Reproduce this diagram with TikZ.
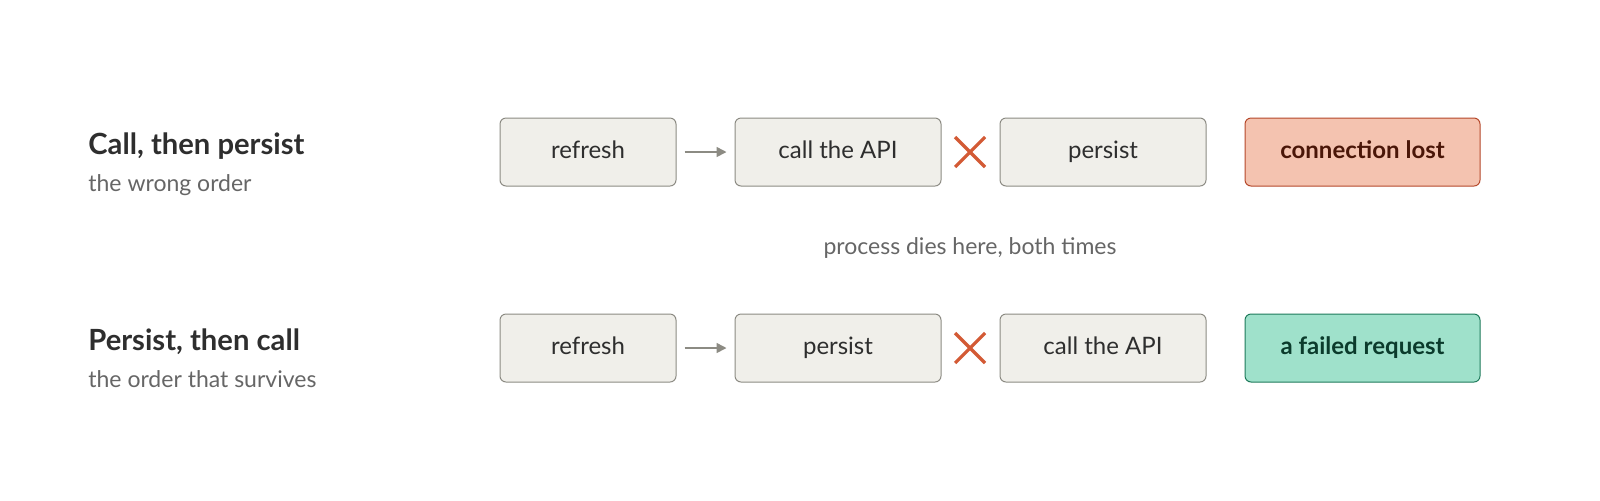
\documentclass[tikz,border=0pt]{standalone}
\usepackage{fontspec}
\setmainfont{Lato}
\usetikzlibrary{arrows.meta}
\definecolor{boxfill}{HTML}{F0EFEA}
\definecolor{boxline}{HTML}{8C8B83}
\definecolor{redfill}{HTML}{F4C3B0}
\definecolor{redline}{HTML}{B5482A}
\definecolor{redtext}{HTML}{4A1608}
\definecolor{grnfill}{HTML}{9FE1CB}
\definecolor{grnline}{HTML}{1D7A5A}
\definecolor{grntext}{HTML}{0B3B2C}
\definecolor{crossc}{HTML}{D35A35}
\definecolor{dark}{HTML}{2E2E2E}
\definecolor{sub}{HTML}{666666}
\tikzset{
  box/.style={draw=boxline, fill=boxfill, rounded corners=3pt, line width=0.5pt, minimum height=34pt, text=dark, font=\fontsize{12}{14}\selectfont, inner sep=0pt, text height=8.6pt, text depth=2.4pt},
  bad/.style={box, draw=redline, fill=redfill, text=redtext, font=\bfseries\fontsize{12}{14}\selectfont},
  good/.style={box, draw=grnline, fill=grnfill, text=grntext, font=\bfseries\fontsize{12}{14}\selectfont},
  arr/.style={draw=boxline, line width=0.8pt, -{Triangle[length=5pt,width=5pt]}},
  crs/.style={draw=crossc, line width=1.6pt},
  title/.style={anchor=base west, text=dark, font=\bfseries\fontsize{14.6}{16}\selectfont, inner sep=0pt},
  subt/.style={anchor=base west, text=sub, font=\fontsize{11.5}{13}\selectfont, inner sep=0pt}
}
\begin{document}
\begin{tikzpicture}[x=0.5pt,y=-0.5pt]
\useasboundingbox (0,0) rectangle (1600,500);
% row 1
\node[title] (t1) at (88,154) {Call, then persist};
\node[subt] (s1) at (88,191) {the wrong order};
\node[box, minimum width=88pt] (a1) at (588,152) {refresh};
\node[box, minimum width=103pt] (b1) at (838,152) {call the API};
\node[box, minimum width=103pt] (c1) at (1103,152) {persist};
\node[bad, minimum width=117.5pt] (d1) at (1362.5,152) {connection lost};
\draw[arr] ([xshift=4]a1.east) -- ([xshift=-4]b1.west);
\coordinate (x1) at (970,152);
\draw[crs] ([shift={(-15,-15)}]x1) -- ([shift={(15,15)}]x1);
\draw[crs] ([shift={(-15,15)}]x1) -- ([shift={(15,-15)}]x1);
% middle
\node[text=sub, font=\fontsize{11.5}{13}\selectfont] (m) at (970,248) {process dies here, both times};
% row 2
\node[title] (t2) at (88,350) {Persist, then call};
\node[subt] (s2) at (88,387) {the order that survives};
\node[box, minimum width=88pt] (a2) at (588,348) {refresh};
\node[box, minimum width=103pt] (b2) at (838,348) {persist};
\node[box, minimum width=103pt] (c2) at (1103,348) {call the API};
\node[good, minimum width=117.5pt] (d2) at (1362.5,348) {a failed request};
\draw[arr] ([xshift=4]a2.east) -- ([xshift=-4]b2.west);
\coordinate (x2) at (970,348);
\draw[crs] ([shift={(-15,-15)}]x2) -- ([shift={(15,15)}]x2);
\draw[crs] ([shift={(-15,15)}]x2) -- ([shift={(15,-15)}]x2);
\end{tikzpicture}
\end{document}
